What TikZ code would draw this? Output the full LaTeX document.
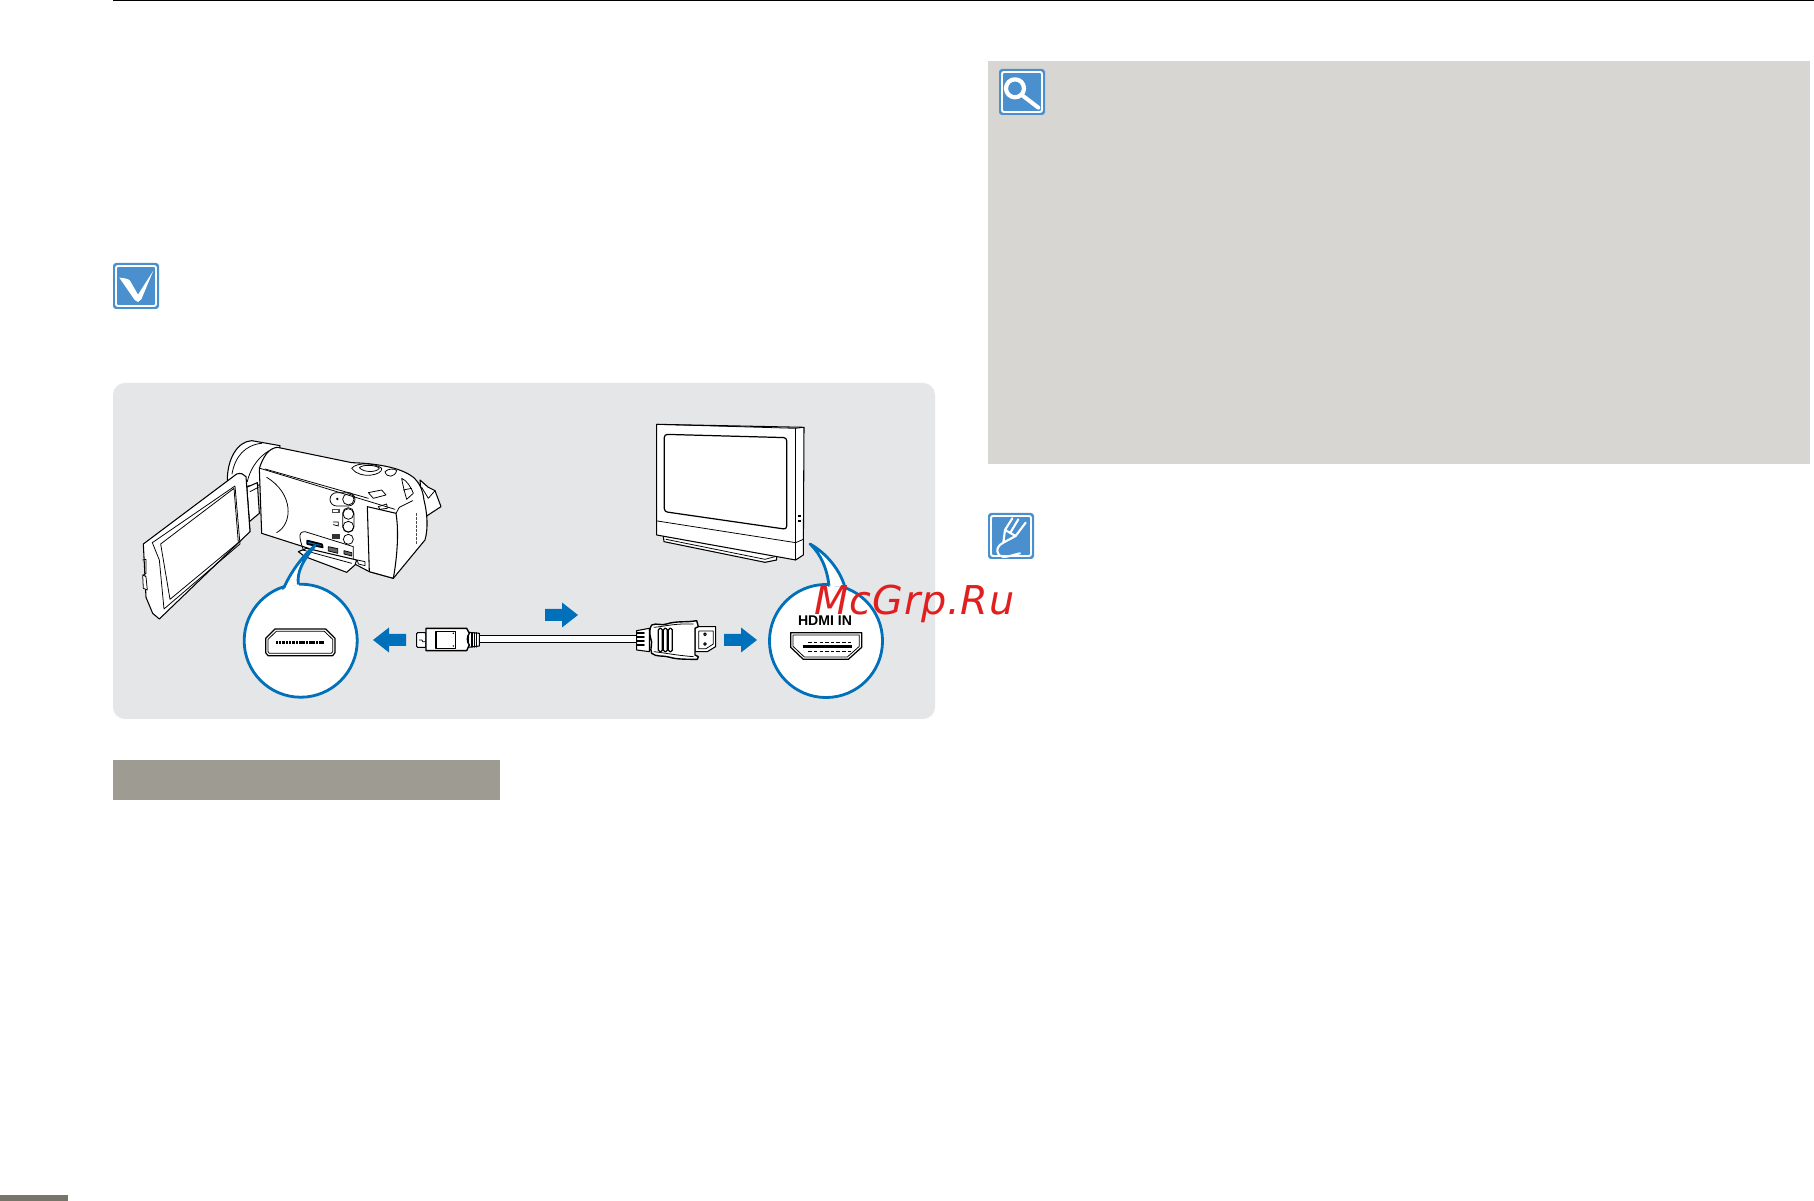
\documentclass[tikz,border=0pt]{standalone}
\usepackage{fontspec}
\newfontfamily\wmfont[LetterSpace=2]{DejaVu Sans}
\newfontfamily\portfont{Liberation Sans}
\definecolor{panelgray}{HTML}{E5E6E8}
\definecolor{notegray}{HTML}{D7D6D2}
\definecolor{bargray}{HTML}{9E9B92}
\definecolor{footgray}{HTML}{77756A}
\definecolor{camblue}{HTML}{0070BA}
\definecolor{iconblue}{HTML}{4A8FCE}
\definecolor{wmred}{HTML}{E02020}
\tikzset{
  camline/.style={draw=black, fill=white, line width=0.3pt},
  thinline/.style={draw=black, line width=0.22pt},
  bubble/.style={circle, draw=camblue, fill=white, line width=0.8pt, minimum size=1.13cm, inner sep=0pt},
  bubbletail/.style={draw=camblue, fill=white, line width=0.8pt},
  iconline/.style={draw=white, line width=0.6pt},
  pics/bluearrow/.style={code={
    \fill[camblue] (0,-6) -- (17,-6) -- (17,-12.5) -- (33,0) -- (17,12.5) -- (17,6) -- (0,6) -- cycle;
  }},
  pics/iconbox/.style={code={
    \fill[iconblue, rounded corners=0.3mm] (0,0) rectangle (46,46);
    \draw[draw=white, line width=0.55pt, rounded corners=0.2mm] (3,3) rectangle (43,43);
  }}
}
\begin{document}
\begin{tikzpicture}[x=0.01cm, y=-0.01cm, line cap=round, line join=round]

% --- Page ---
\fill[white] (0,0) rectangle (1814,1201);
\useasboundingbox (0,0) rectangle (1814,1201);
\fill[black] (113,0) rectangle (1814,1.2);
\fill[footgray] (0,1195) rectangle (68,1201);
\fill[notegray] (987.5,61) rectangle (1810,464);
\fill[bargray] (113,760) rectangle (500,800);
\fill[panelgray, rounded corners=1.2mm] (113,383) rectangle (935,719);

% --- Icons ---
\pic at (113,263) {iconbox};
\pic at (999,69) {iconbox};
\pic at (988,513) {iconbox};
\begin{scope}[shift={(100,250)}, scale=1/3]
  \fill[white] (58,83) .. controls (75,85) and (85,86) .. (90,92) -- (114,134) -- (160,62) -- (124,148) -- (114,156) -- (104,150) -- cycle;
\end{scope}
\begin{scope}[shift={(985,55)}, scale=1/3]
  \draw[white, line width=1.2pt] (90,100) circle (27);
  \draw[white, line width=1.15pt] (113,122) -- (160,158);
\end{scope}
\begin{scope}[shift={(975,500)}, scale=1/3]
  \draw[iconline] (112,55) -- (90,90) -- (122,108) -- (152,68);
  \draw[iconline] (130,58) -- (106,98);
  \draw[iconline] (90,90) -- (85,128) -- (122,108);
  \draw[iconline] (85,128) .. controls (70,135) and (60,150) .. (72,165) .. controls (85,178) and (110,165) .. (135,160);
\end{scope}

% --- Camcorder ---
\begin{scope}[shift={(120,400)}, scale=1/3]
  % barrel
  \draw[camline] (322,240) .. controls (322,180) and (350,125) .. (395,122) -- (480,137) -- (470,250) -- (345,262) -- cycle;
  \draw[thinline] (336,222) .. controls (345,170) and (375,135) .. (425,130);
  \draw[thinline] (382,245) .. controls (392,200) and (425,155) .. (470,143);
  % rear grip
  \draw[camline] (900,240) -- (925,262) -- (945,272) -- (963,320) -- (920,348) -- (905,300) -- cycle;
  \draw[thinline] (905,262) -- (925,295) -- (945,272);
  % body
  \draw[camline] (418,205) .. controls (430,170) and (445,145) .. (472,142) -- (695,188) .. controls (760,190) and (840,200) .. (880,232) .. controls (900,250) and (908,270) .. (912,300) .. controls (922,340) and (925,385) .. (915,420) -- (820,535) -- (748,515) -- (700,490) -- (550,440) -- (425,400) -- cycle;
  \draw[thinline] (420,205) -- (825,328);
  \draw[thinline] (435,207) -- (745,295);
  \draw[thinline] (440,232) .. controls (520,280) and (520,370) .. (470,398);
  % rear cover
  \draw[camline] (742,320) -- (828,340) .. controls (838,400) and (830,480) .. (820,535) -- (748,515) -- cycle;
  \draw[thinline] (828,340) -- (838,322) -- (878,302);
  % top controls
  \draw[thinline, fill=white] (695,205) .. controls (710,185) and (770,190) .. (785,205) .. controls (790,225) and (720,240) .. (695,205);
  \draw[thinline, fill=white] (718,203) .. controls (730,192) and (770,195) .. (778,205) .. controls (770,218) and (730,218) .. (718,203);
  \draw[thinline, fill=white] (795,215) .. controls (805,205) and (825,205) .. (830,212) .. controls (825,232) and (800,235) .. (795,215);
  \draw[thinline, fill=white] (745,278) -- (785,270) -- (798,285) -- (760,295) -- cycle;
  \draw[thinline] (775,320) -- (800,312) -- (802,325) -- (780,328) -- cycle;
  \draw[thinline] (845,235) .. controls (860,240) and (875,265) .. (880,280) -- (860,298) .. controls (855,280) and (848,255) .. (845,235);
  \draw[thinline] (850,270) -- (875,265);
  \foreach \tick in {340,352,364,376,388,400,412,424} {
    \fill[black!70] (888,\tick) rectangle (892,\tick+8);
  }
  % buttons
  \draw[thinline] (650,278) -- (685,278) arc (-90:90:20) -- (650,318) arc (90:270:20);
  \draw[thinline] (685,298) circle (17);
  \fill[black] (652,297) circle (4);
  \draw[thinline] (668,340) arc (180:360:17) -- (702,380) arc (0:180:17) -- cycle;
  \draw[thinline] (685,342) circle (16);
  \draw[thinline] (685,380) circle (16);
  \draw[thinline] (685,418) circle (15);
  \fill[black!70] (635,326) rectangle (660,338);
  \fill[white] (640,329) rectangle (655,335);
  \draw[thinline] (640,366) -- (655,366) -- (655,378) -- (640,374);
  \fill[black!80] (636,402) rectangle (660,416);
  % port bay
  \draw[thinline] (555,465) .. controls (540,420) and (530,395) .. (555,395) -- (700,440) -- (700,480);
  \draw[camline] (535,455) -- (555,470) -- (680,517) -- (705,495) -- (710,480) -- (560,445) -- cycle;
  \draw[thinline] (548,450) -- (695,490);
  \fill[camblue] (562,422) -- (606,433) -- (608,442) -- (562,432) -- cycle;
  \draw[thinline, line width=0.5pt] (562,422) -- (606,433) -- (608,442) -- (562,432) -- cycle;
  \draw[thinline, fill=black!60] (625,440) -- (653,446) -- (653,460) -- (625,453) -- cycle;
  \draw[thinline, fill=black!60] (672,452) -- (695,458) -- (695,468) -- (672,462) -- cycle;
  \draw[thinline] (712,480) -- (735,485) -- (735,497) -- (715,492) -- cycle;
  % hinge
  \draw[camline] (380,262) -- (412,248) -- (418,340) -- (388,365) -- cycle;
  \draw[thinline] (390,275) -- (415,262);
  \draw[camline] (366,270) -- (380,262) -- (390,395) -- (375,398) -- cycle;
  % screen panel
  \draw[camline] (70,432) -- (350,222) .. controls (362,218) and (372,222) .. (378,230) -- (390,395) -- (118,657) -- (98,640) -- (78,592) -- cycle;
  \draw[thinline] (97,428) -- (345,258) -- (360,432) -- (132,627) -- (118,480) -- cycle;
  \draw[thinline] (122,432) -- (342,265) -- (355,428) -- (150,598) -- cycle;
  \draw[thinline] (68,480) -- (78,478) -- (78,520) -- (70,525);
  \draw[thinline, fill=white] (68,525) -- (78,530) -- (82,570) -- (70,565) -- cycle;
\end{scope}

% --- Bubbles ---
\node[bubble] (campport) at (300.7,640.7) {};
\node[bubble] (tvport) at (826,641) {};

% --- Television ---
\begin{scope}[shift={(630,410)}, scale=1/3]
  \draw[camline] (100,378) -- (102,395) -- (405,457) -- (440,450) -- (440,430) -- cycle;
  \draw[thinline] (108,388) -- (405,448) -- (435,440);
  \draw[camline] (80,43) -- (522,52) -- (520,435) -- (497,450) -- (80,375) -- cycle;
  \draw[thinline] (80,43) -- (497,55) -- (522,52);
  \draw[thinline] (497,55) -- (497,450);
  \draw[thinline] (82,333) -- (497,398) -- (520,388);
  \draw[thinline, rounded corners=0.3mm, line width=0.35pt] (103,73) -- (470,83) -- (470,358) -- (103,305) -- cycle;
  \fill[black] (503,314) rectangle (512,321);
  \fill[black] (503,329) rectangle (512,336);
\end{scope}

% --- Callouts ---
\begin{scope}[shift={(120,400)}, scale=1/3]
  \draw[bubbletail] (490,567) .. controls (510,520) and (545,470) .. (585,437) .. controls (550,480) and (530,515) .. (535,553);
  \fill[white] (492,572) -- (490,567) -- (535,553) -- (538,558) -- cycle;
  % port of the camcorder
  \draw[thinline, line width=0.35pt, fill=white] (437,715) -- (465,687) -- (617,687) -- (645,715) -- (645,758) -- (638,767) -- (444,767) -- (437,758) -- cycle;
  \draw[thinline] (444,718) -- (469,694) -- (613,694) -- (638,718) -- (638,755) -- (634,760) -- (448,760) -- (444,755) -- cycle;
  \draw[black, line width=0.7pt, dash pattern=on 0.7pt off 0.25pt, line cap=butt] (467,727) -- (611,727);
\end{scope}
\begin{scope}[shift={(630,410)}, scale=1/3]
  \draw[bubbletail] (597,527) .. controls (592,480) and (575,435) .. (540,402) .. controls (590,430) and (630,480) .. (645,532);
  \fill[white] (600,532) -- (597,527) -- (645,532) -- (640,538) -- cycle;
  % port of the television
  \draw[thinline, line width=0.35pt, fill=white] (482,668) -- (695,668) -- (695,712) -- (655,748) -- (520,748) -- (482,712) -- cycle;
  \draw[thinline] (489,675) -- (688,675) -- (688,709) -- (652,741) -- (523,741) -- (489,709) -- cycle;
  \fill[black] (519,704) rectangle (666,715);
  \draw[black, line width=0.25pt, dash pattern=on 1pt off 0.6pt, line cap=butt] (535,698) -- (665,698);
  \draw[black, line width=0.25pt, dash pattern=on 1pt off 0.6pt, line cap=butt] (535,723) -- (665,723);
\end{scope}

% --- Cable ---
\begin{scope}[shift={(410,590)}, scale=1/3]
  \draw[camline] (208,137) -- (690,137) -- (690,157) -- (208,157) -- cycle;
  \draw[camline, rounded corners=0.1mm] (20,128) rectangle (48,172);
  \draw[thinline] (28,150) -- (36,150) -- (38,155) -- (45,155);
  \draw[camline] (175,127) -- (208,130) -- (208,168) -- (175,172) -- cycle;
  \foreach \ribx in {186,193,200} {
    \draw[thinline, line width=0.4pt] (\ribx,128) -- (\ribx,171);
  }
  \draw[camline, line width=0.4pt] (48,115) -- (170,115) -- (178,130) .. controls (170,140) and (170,155) .. (178,165) -- (170,182) -- (48,182) -- cycle;
  \draw[thinline, line width=0.3pt] (78,125) -- (137,125) -- (137,175) -- (78,175) -- cycle;
  \fill[black] (130,130) circle (2.5);
  \fill[black] (130,168) circle (2.5);
\end{scope}
\begin{scope}[shift={(620,600)}, scale=1/3]
  \draw[camline] (50,92) -- (88,85) -- (88,155) -- (50,150) -- cycle;
  \foreach \riby in {100,112,124,136} {
    \draw[thinline, line width=0.5pt] (52,\riby) -- (72,\riby);
  }
  \draw[camline] (225,80) -- (287,80) -- (287,140) -- (262,155) -- (225,155) -- cycle;
  \draw[thinline] (236,93) -- (280,93) -- (280,132) -- (258,146) -- (236,146) -- cycle;
  \draw[thinline, line width=0.3pt] (255,103) circle (4);
  \draw[thinline, line width=0.3pt] (255,132) circle (4);
  \draw[camline, line width=0.4pt] (95,75) .. controls (110,68) and (125,78) .. (140,72) .. controls (170,62) and (200,68) .. (230,62) -- (235,80) -- (225,85) -- (225,165) -- (235,170) -- (232,178) .. controls (200,178) and (170,178) .. (150,172) .. controls (125,165) and (110,172) .. (95,160) .. controls (88,145) and (100,130) .. (92,115) .. controls (88,100) and (88,85) .. (95,75) -- cycle;
  \draw[thinline] (102,82) .. controls (130,80) and (160,70) .. (220,72);
  \draw[thinline] (102,155) .. controls (130,158) and (160,165) .. (220,170);
  \foreach \slotx in {115,130,145} {
    \draw[thinline, line width=0.35pt, rounded corners=0.15mm] (\slotx,85) rectangle (\slotx+12,155);
  }
\end{scope}

% --- Arrows ---
\pic[rotate=180] at (406,640) {bluearrow};
\pic at (545,615) {bluearrow};
\pic at (724,640) {bluearrow};

% --- Labels ---
\node[font=\portfont\bfseries, inner sep=0pt] (hdmilabel) at (825,621) {\fontsize{4}{4}\selectfont HDMI IN};
\node[text=wmred, inner sep=0pt, anchor=base west] (watermark) at (814,615) {\fontsize{11.3}{12}\wmfont\itshape McGrp.Ru};

\end{tikzpicture}
\end{document}
